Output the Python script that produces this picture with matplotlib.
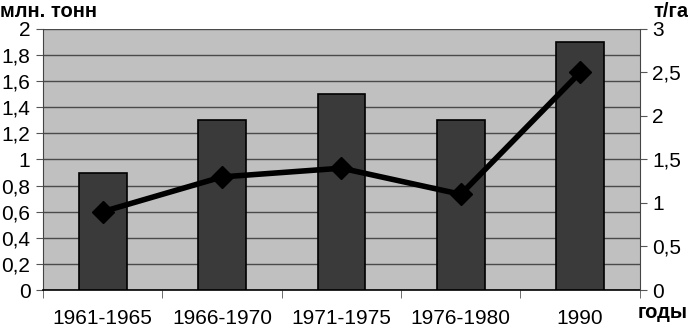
import matplotlib.pyplot as plt
import numpy as np

periods = ["1961-1965", "1966-1970", "1971-1975", "1976-1980", "1990"]
production = [0.9, 1.3, 1.5, 1.3, 1.9]   # млн. тонн (left axis)
yield_t_ha = [0.9, 1.3, 1.4, 1.1, 2.5]   # т/га (right axis)

plt.rcParams["font.family"] = ["Liberation Sans", "DejaVu Sans"]

fig = plt.figure(figsize=(6.88, 3.32), dpi=100)
ax = fig.add_axes([0.0625, 0.1265, 0.8675, 0.7862])
ax.set_facecolor("#c0c0c0")

x = np.arange(len(periods))
ax.bar(x, production, width=0.4, color="#3a3a3a", edgecolor="black", linewidth=1.2, zorder=3)

ax.set_xlim(-0.5, len(periods) - 0.5)
ax.set_ylim(0, 2)
ax.set_yticks(np.arange(0, 2.01, 0.2))
ax.set_yticklabels([f"{v:g}".replace(".", ",") for v in np.arange(0, 2.01, 0.2).round(1)], fontsize=15)
ax.grid(axis="y", color="#4a4a4a", linewidth=1, zorder=1)
ax.set_xticks(x)
ax.set_xticklabels(periods, fontsize=15)
ax.tick_params(axis="x", length=0, pad=14)
ax.set_xticks(np.arange(-0.5, len(periods)), minor=True)
ax.tick_params(axis="x", which="minor", length=6, color="#555555")
ax.tick_params(axis="y", length=5, color="#555555", pad=4)
for s in ["top", "right"]:
    ax.spines[s].set_visible(False)
ax.spines["left"].set_color("#444444")
ax.spines["bottom"].set_color("black")
ax.spines["bottom"].set_linewidth(1.2)

ax2 = ax.twinx()
ax2.plot(x, yield_t_ha, color="black", linewidth=4, marker="D", markersize=11, zorder=4)
ax2.set_ylim(0, 3)
ax2.set_yticks(np.arange(0, 3.01, 0.5))
ax2.set_yticklabels([f"{v:g}".replace(".", ",") for v in np.arange(0, 3.01, 0.5)], fontsize=15)
ax2.tick_params(axis="y", length=5, color="#555555", pad=4)
for s in ["top", "left", "bottom"]:
    ax2.spines[s].set_visible(False)
ax2.spines["right"].set_color("#444444")

fig.text(0.0, 0.995, "млн. тонн", fontsize=14.5, fontweight="bold", ha="left", va="top")
fig.text(1.0, 0.995, "т/га", fontsize=14.5, fontweight="bold", ha="right", va="top")
fig.text(1.0, 0.03, "годы", fontsize=14.5, fontweight="bold", ha="right", va="bottom")

fig.savefig("out.png", dpi=100)
